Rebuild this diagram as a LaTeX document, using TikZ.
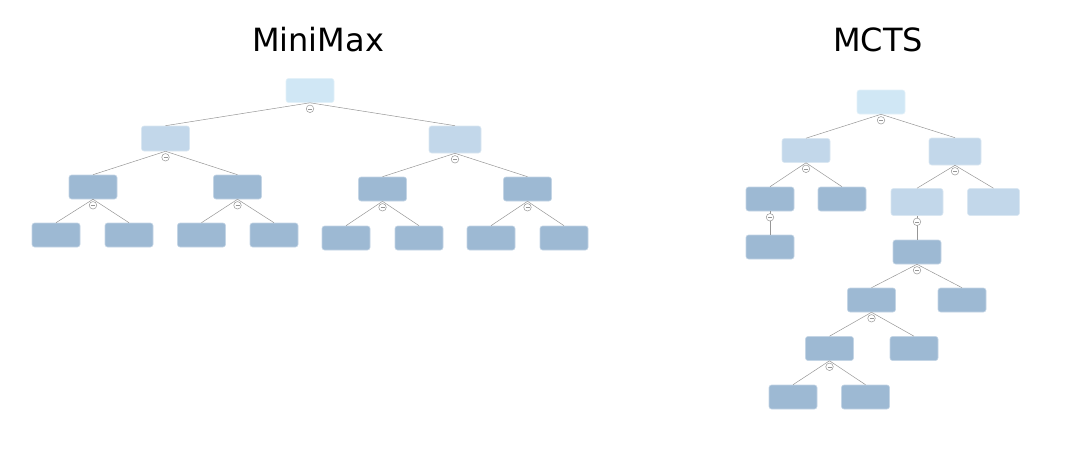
\documentclass[tikz,border=0pt]{standalone}
\usepackage{fontspec}
\setmainfont{DejaVu Sans}
\definecolor{rootc}{RGB}{208,231,245}
\definecolor{midc}{RGB}{194,215,234}
\definecolor{darkc}{RGB}{157,185,211}
\definecolor{edgec}{RGB}{150,150,150}
\begin{document}
\begin{tikzpicture}[x=1pt,y=-1pt,
  box/.style={rectangle, rounded corners=2.5pt, inner sep=0pt, minimum width=48pt, minimum height=24pt},
  rootbox/.style={box, fill=rootc, draw=white!40!rootc, line width=0.6pt},
  midbox/.style={box, fill=midc, draw=white!40!midc, line width=0.6pt},
  bigbox/.style={midbox, minimum width=52pt, minimum height=27pt},
  darkbox/.style={box, fill=darkc, draw=white!40!darkc, line width=0.6pt},
  edge/.style={draw=edgec, line width=0.5pt},
  collapse/.style={circle, draw=edgec, fill=white, line width=0.5pt, inner sep=0pt, minimum size=7.5pt,
    path picture={\draw[edgec, line width=0.5pt] ([xshift=-2pt]path picture bounding box.center) -- ([xshift=2pt]path picture bounding box.center);}},
  title/.style={font=\fontsize{32}{38}\selectfont, text=black}
]
\useasboundingbox (0,0) rectangle (1066,463);
\node[title] (t1) at (318,40) {MiniMax};
\node[title] (t2) at (878,40) {MCTS};

% MiniMax
\node[rootbox] (r) at (310,90.5) {};
\node[midbox, minimum height=25pt] (a) at (165.5,138.5) {};
\node[bigbox] (b) at (455,139.5) {};
\node[darkbox] (a1) at (93,187) {};
\node[darkbox] (a2) at (237.5,187) {};
\node[darkbox] (b1) at (382.5,189) {};
\node[darkbox] (b2) at (527.5,189) {};
\node[darkbox] (a11) at (56,235) {};
\node[darkbox] (a12) at (129,235) {};
\node[darkbox] (a21) at (201.5,235) {};
\node[darkbox] (a22) at (274,235) {};
\node[darkbox] (b11) at (346,238) {};
\node[darkbox] (b12) at (419,238) {};
\node[darkbox] (b21) at (491,238) {};
\node[darkbox] (b22) at (564,238) {};
\foreach \p/\c in {r/a,r/b,a/a1,a/a2,b/b1,b/b2,a1/a11,a1/a12,a2/a21,a2/a22,b1/b11,b1/b12,b2/b21,b2/b22}
  \draw[edge] (\p.south) -- (\c.north);
\foreach \p in {r,a,b,a1,a2,b1,b2}
  \node[collapse] (c\p) at ([yshift=-6pt]\p.south) {};

% MCTS
\node[rootbox] (m) at (881,102) {};
\node[midbox] (m1) at (806,150.5) {};
\node[bigbox] (m2) at (955,151.5) {};
\node[darkbox] (m11) at (770,199) {};
\node[darkbox] (m12) at (842,199) {};
\node[bigbox] (m21) at (917,202) {};
\node[bigbox] (m22) at (993.5,202) {};
\node[darkbox] (m111) at (770,247) {};
\node[darkbox] (m211) at (917,252) {};
\node[darkbox] (n1) at (871.5,300) {};
\node[darkbox] (n2) at (962,300) {};
\node[darkbox] (n11) at (829.5,348.5) {};
\node[darkbox] (n12) at (914,348.5) {};
\node[darkbox] (n111) at (793,397) {};
\node[darkbox] (n112) at (865.5,397) {};
\foreach \p/\c in {m/m1,m/m2,m1/m11,m1/m12,m2/m21,m2/m22,m11/m111,m21/m211,m211/n1,m211/n2,n1/n11,n1/n12,n11/n111,n11/n112}
  \draw[edge] (\p.south) -- (\c.north);
\foreach \p in {m,m1,m2,m11,m21,m211,n1,n11}
  \node[collapse] (c\p) at ([yshift=-6pt]\p.south) {};
\end{tikzpicture}
\end{document}
